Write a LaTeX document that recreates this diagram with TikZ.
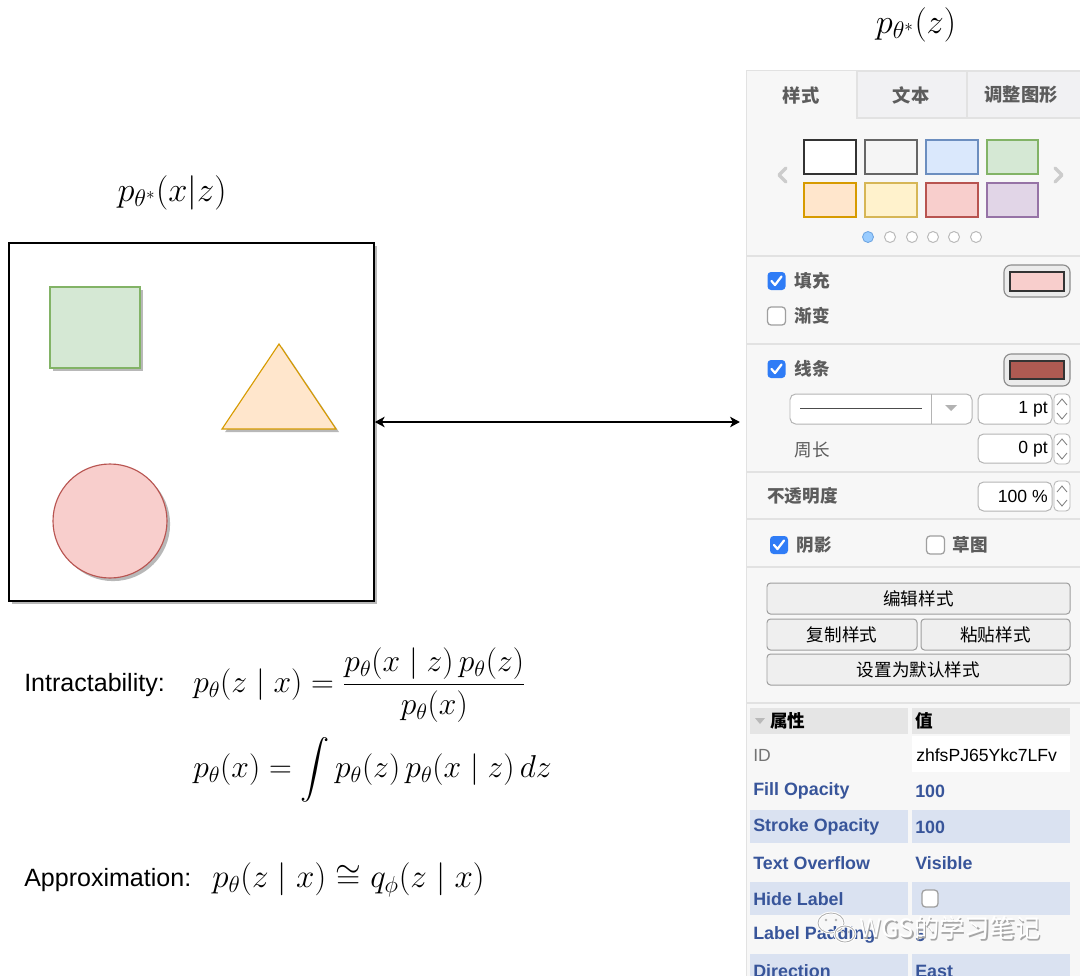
\RequirePackage{fix-cm}
\documentclass[tikz,border=0pt]{standalone}
\usepackage{amsmath}
\usepackage[no-math]{fontspec}
\setmainfont{Liberation Sans}
\newfontfamily\cjk{Noto Sans CJK SC}
\usepackage{xcolor}
\usetikzlibrary{positioning,arrows.meta,shadows}
\definecolor{greenfill}{HTML}{D5E8D4}
\definecolor{greenline}{HTML}{82B366}
\definecolor{orangefill}{HTML}{FFE6CC}
\definecolor{orangeline}{HTML}{D79B00}
\definecolor{redfill}{HTML}{F8CECC}
\definecolor{redline}{HTML}{B85450}
\definecolor{uigray}{HTML}{5C5C5C}
\definecolor{sepgray}{HTML}{E2E2E2}
\definecolor{tabfill}{HTML}{F1F1F3}
\definecolor{fieldgray}{HTML}{B4B4B4}
\definecolor{btnfill}{HTML}{EFEFEF}
\definecolor{btngray}{HTML}{9E9E9E}
\definecolor{cbblue}{HTML}{2F7CF6}
\definecolor{propblue}{HTML}{38559A}
\definecolor{rowblue}{HTML}{DAE2F1}
\definecolor{headgray}{HTML}{E5E5E5}
\tikzset{
    frame/.style={draw,line width=1.1pt,fill=white,shd},
    shd/.style={drop shadow={shadow xshift=2.2pt,shadow yshift=-2.2pt,opacity=.28,fill=black}},
    panel/.style={draw=sepgray,line width=1pt,fill=white!97!black},
    dblarrow/.style={{Stealth[length=7pt,width=7.5pt,inset=2pt]}-{Stealth[length=7pt,width=7.5pt,inset=2pt]},line width=0.9pt},
    eqtext/.style={font=\fontsize{17.8}{21}\selectfont,anchor=west,inner sep=0},
    eqmath/.style={font=\fontsize{22.5}{27}\selectfont,anchor=west,inner sep=0},
    title/.style={font=\fontsize{24.5}{28}\selectfont,inner sep=0},
    tabtxt/.style={font=\cjk\bfseries\fontsize{13}{15}\selectfont,text=uigray,inner sep=0},
    tab/.style={fill=tabfill,draw=sepgray,line width=0.8pt},
    lbl/.style={font=\cjk\bfseries\fontsize{12.5}{15}\selectfont,text=uigray,inner sep=0},
    cjktxt/.style={font=\cjk\fontsize{12.5}{15}\selectfont,inner sep=0},
    ui/.style={font=\fontsize{12.5}{15}\selectfont,inner sep=0},
    prop/.style={font=\bfseries\fontsize{12.7}{15}\selectfont,text=propblue,anchor=west,inner sep=0},
    sep/.style={draw=sepgray,line width=0.8pt},
    sw/.style={line width=1pt},
    field/.style={draw=fieldgray,fill=white,rounded corners=4pt,line width=0.7pt},
    btn/.style={draw=btngray,fill=btnfill,rounded corners=2.5pt,line width=0.7pt},
    wm/.style={font=\cjk\fontsize{18}{21}\selectfont,inner sep=0},
    pics/chkon/.style={code={
        \fill[cbblue,rounded corners=2.5pt] (-9,-9) rectangle (9,9);
        \draw[white,line width=1.6pt,line cap=round,line join=round] (-5,0) -- (-1.5,4) -- (5,-4.5);}},
    pics/chkoff/.style={code={
        \draw[gray!75,line width=0.9pt,fill=white,rounded corners=2.5pt] (-9,-9) rectangle (9,9);}},
    pics/spin/.style={code={
        \draw[sepgray!80!black,fill=white,rounded corners=3pt,line width=0.6pt] (-8,-15) rectangle (8,15);
        \draw[gray,line width=0.6pt] (-5,-4) -- (0,-10) -- (5,-4);
        \draw[gray,line width=0.6pt] (-5,4) -- (0,10) -- (5,4);}}
}
\begin{document}
\begin{tikzpicture}[x=0.025cm,y=-0.025cm]
  \useasboundingbox (0,0) rectangle (1080,975);
  % left canvas with the three shapes
  \node[frame,minimum width=9.125cm,minimum height=8.95cm] (canvas) at (191.5,422) {};
  \filldraw[shd,fill=greenfill,draw=greenline,line width=0.8pt] (50,287) rectangle (140,368);
  \filldraw[shd,fill=orangefill,draw=orangeline,line width=0.8pt] (279,344) -- (336,429) -- (222,429) -- cycle;
  \filldraw[shd,fill=redfill,draw=redline,line width=0.8pt] (110,521) circle (57);
  \node[title] (pxz) at (172,193) {$p_{\theta^*}(x|z)$};
  \node[title] (pz) at (916,25) {$p_{\theta^*}(z)$};

  % formulas
  \node[eqtext] (intra) at (24,685) {Intractability:};
  \node[eqmath] (bayes) at (193,685) {$\displaystyle p_\theta(z\mid x)=\frac{p_\theta(x\mid z)\,p_\theta(z)}{p_\theta(x)}$};
  \node[eqmath] (evid) at (193,770) {$\displaystyle p_\theta(x)=\int p_\theta(z)\,p_\theta(x\mid z)\,dz$};
  \node[eqtext] (approx) at (24,880) {Approximation:};
  \node[eqmath,font=\fontsize{23.5}{28}\selectfont] (qphi) at (212,880) {$p_\theta(z\mid x)\cong q_\phi(z\mid x)$};

  % format panel
  \node[panel,anchor=north west,minimum width=8.7cm,minimum height=22.9cm] (panel) at (745.5,70) {};
  \draw[dblarrow] (canvas.east) -- ([xshift=-4pt]canvas.east -| panel.west);

  % tabs
  \filldraw[tab] (857,71) rectangle (967,118);
  \filldraw[tab] (967,71) rectangle (1085,118);
  \node[tabtxt] (tstyle) at (801,95) {样式};
  \node[tabtxt] (ttext) at (911,95) {文本};
  \node[tabtxt] (tshape) at (1021,95) {调整图形};

  % colour presets
  \filldraw[sw,fill=white,draw=black!80,line width=1.3pt] (804,140) rectangle (856,174);
  \filldraw[sw,fill=black!4,draw=black!60] (865,140) rectangle (917,174);
  \filldraw[sw,fill={rgb,255:red,218;green,232;blue,252},draw={rgb,255:red,108;green,142;blue,191}] (926,140) rectangle (978,174);
  \filldraw[sw,fill=greenfill,draw=greenline] (987,140) rectangle (1038,174);
  \filldraw[sw,fill=orangefill,draw=orangeline] (804,183) rectangle (856,217);
  \filldraw[sw,fill={rgb,255:red,255;green,242;blue,204},draw={rgb,255:red,214;green,182;blue,86}] (865,183) rectangle (917,217);
  \filldraw[sw,fill=redfill,draw=redline] (926,183) rectangle (978,217);
  \filldraw[sw,fill={rgb,255:red,225;green,213;blue,231},draw={rgb,255:red,150;green,115;blue,166}] (987,183) rectangle (1038,217);
  \draw[gray!40,line width=2.4pt,line cap=round,line join=round] (786,168) -- (779,175) -- (786,182);
  \draw[gray!40,line width=2.4pt,line cap=round,line join=round] (1055,168) -- (1062,175) -- (1055,182);
  \filldraw[fill={rgb,255:red,153;green,204;blue,255},draw={rgb,255:red,110;green,165;blue,225},line width=0.6pt] (868,237) circle (5.5);
  \filldraw[fill=white,draw=gray!55,line width=0.7pt] (890,237) circle (5.5);
  \filldraw[fill=white,draw=gray!55,line width=0.7pt] (912,237) circle (5.5);
  \filldraw[fill=white,draw=gray!55,line width=0.7pt] (933,237) circle (5.5);
  \filldraw[fill=white,draw=gray!55,line width=0.7pt] (954,237) circle (5.5);
  \filldraw[fill=white,draw=gray!55,line width=0.7pt] (976,237) circle (5.5);

  % separators
  \draw[sep] (746,256) -- (1080,256);
  \draw[sep] (746,344) -- (1080,344);
  \draw[sep] (746,472) -- (1080,472);
  \draw[sep] (746,519) -- (1080,519);
  \draw[sep] (746,567) -- (1080,567);
  \draw[sep] (746,703) -- (1080,703);

  % fill
  \pic at (776.5,281) {chkon};
  \node[lbl] (lfill) at (812,281) {填充};
  \filldraw[fill=black!8,draw=black!45,rounded corners=5pt,line width=0.8pt] (1004,265) rectangle (1070,297);
  \filldraw[fill=redfill,draw=black!80,line width=0.8pt] (1010,272) rectangle (1064,291);
  \pic at (776.5,316) {chkoff};
  \node[lbl] (lgrad) at (812,316) {渐变};

  % line
  \pic at (776.5,369) {chkon};
  \node[lbl] (lline) at (812,369) {线条};
  \filldraw[fill=black!8,draw=black!45,rounded corners=5pt,line width=0.8pt] (1004,354) rectangle (1070,386);
  \filldraw[fill={rgb,255:red,174;green,90;blue,82},draw=black!80,line width=0.8pt] (1010,361) rectangle (1064,379);
  \filldraw[field] (790,394) rectangle (972,424);
  \draw[black!70,line width=0.7pt] (800,408) -- (922,408);
  \draw[fieldgray,line width=0.6pt] (931,394) -- (931,424);
  \fill[gray!60] (945,405) -- (957,405) -- (951,411) -- cycle;
  \filldraw[field] (978,394) rectangle (1052,424);
  \node[ui,anchor=east] (vwidth) at (1048,409) {1 pt};
  \pic at (1062,409) {spin};
  \node[lbl,font=\cjk\fontsize{12.5}{15}\selectfont] (lperim) at (812,450) {周长};
  \filldraw[field] (978,434) rectangle (1052,463);
  \node[ui,anchor=east] (vperim) at (1048,449) {0 pt};
  \pic at (1062,449) {spin};

  % opacity
  \node[lbl,anchor=west] (lopac) at (767,496) {不透明度};
  \filldraw[field] (978,482) rectangle (1052,511);
  \node[ui,anchor=east] (vopac) at (1048,496) {100 \%};
  \pic at (1062,496) {spin};

  % shadow / sketch
  \pic at (779,545) {chkon};
  \node[lbl] (lshadow) at (814,545) {阴影};
  \pic at (935.5,545) {chkoff};
  \node[lbl] (lsketch) at (970,545) {草图};

  % buttons
  \filldraw[btn] (767,583) rectangle (1070,614);
  \node[cjktxt] (bedit) at (918.5,598.5) {编辑样式};
  \filldraw[btn] (767,619) rectangle (917,650);
  \node[cjktxt] (bcopy) at (842,634.5) {复制样式};
  \filldraw[btn] (921,619) rectangle (1070,650);
  \node[cjktxt] (bpaste) at (995.5,634.5) {粘贴样式};
  \filldraw[btn] (767,654) rectangle (1070,685);
  \node[cjktxt] (bdefault) at (918.5,669.5) {设置为默认样式};

  % property table
  \fill[headgray] (750,708) rectangle (908,734);
  \fill[headgray] (912,708) rectangle (1070,734);
  \fill[gray!55] (755,718) -- (765,718) -- (760,724) -- cycle;
  \node[cjktxt,font=\cjk\bfseries\fontsize{12.5}{15}\selectfont,anchor=west] (hprop) at (770,721) {属性};
  \node[cjktxt,font=\cjk\bfseries\fontsize{12.5}{15}\selectfont,anchor=west] (hval) at (915,721) {值};
  \fill[black!3] (750,736) rectangle (908,772);
  \fill[white] (912,736) rectangle (1070,772);
  \node[ui,anchor=west,text=black!55] (pid) at (753,755) {ID};
  \node[ui,anchor=west] (vid) at (916,755) {zhfsPJ65Ykc7LFv};
  \node[prop] (pfill) at (753,791) {Fill Opacity};
  \node[prop] (vfill) at (915,791) {100};
  \fill[rowblue] (750,810) rectangle (908,843);
  \fill[rowblue] (912,810) rectangle (1070,843);
  \node[prop] (pstroke) at (753,827) {Stroke Opacity};
  \node[prop] (vstroke) at (915,827) {100};
  \node[prop] (pover) at (753,863) {Text Overflow};
  \node[prop] (vover) at (915,863) {Visible};
  \fill[rowblue] (750,882) rectangle (908,915);
  \fill[rowblue] (912,882) rectangle (1070,915);
  \node[prop] (phide) at (753,899) {Hide Label};
  \draw[gray!75,line width=0.9pt,fill=white,rounded corners=2.5pt] (922,890) rectangle (938,907);
  \node[prop] (ppad) at (753,935) {Label Padding};
  \node[prop] (vpad) at (915,935) {5};
  \fill[rowblue] (750,954) rectangle (908,980);
  \fill[rowblue] (912,954) rectangle (1070,980);
  \node[prop] (pdir) at (753,971) {Direction};
  \node[prop] (vdir) at (915,971) {East};

  % watermark
  \draw[white,line width=2pt] (831,923) ellipse (13 and 10);
  \draw[gray!60,line width=0.6pt] (831,923) ellipse (13 and 10);
  \draw[white,line width=2pt] (845,934) ellipse (10 and 8);
  \draw[gray!60,line width=0.6pt] (845,934) ellipse (10 and 8);
  \fill[gray!60] (826,920) circle (1.3) (836,920) circle (1.3) (842,932) circle (1.1) (849,932) circle (1.1);
  \node[wm,text=gray!70] (wmback) at (951.5,929.5) {WGS的学习笔记};
  \node[wm,text=white] (wmtext) at (950,928) {WGS的学习笔记};
\end{tikzpicture}
\end{document}
